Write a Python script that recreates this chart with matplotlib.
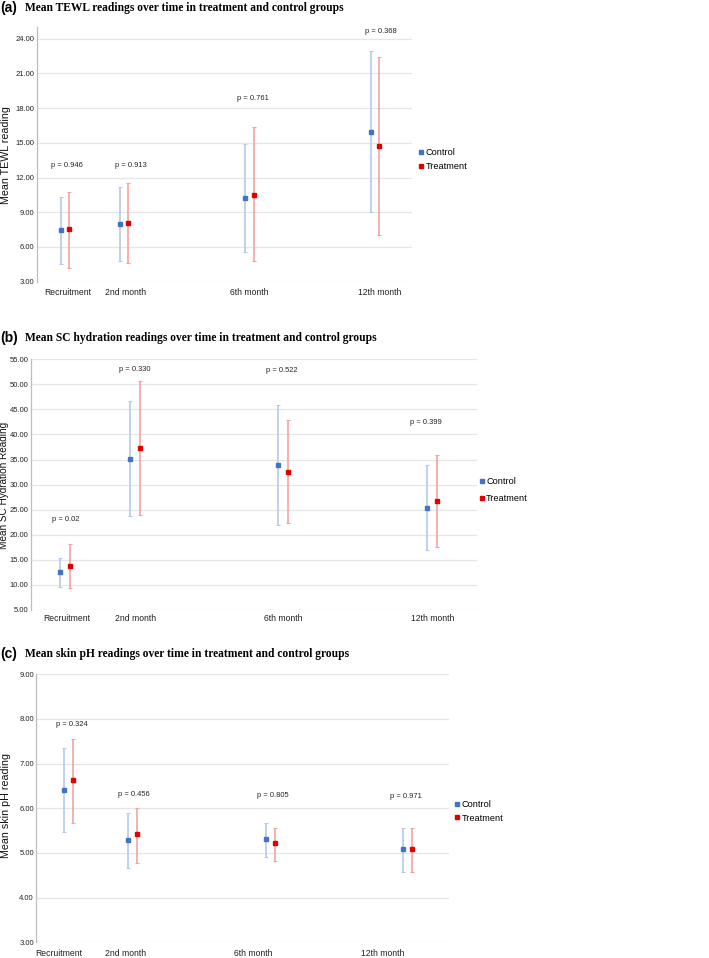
import matplotlib
matplotlib.use("Agg")
import matplotlib.pyplot as plt
from matplotlib import font_manager
from matplotlib.lines import Line2D

# narrow sans if we have it, otherwise plain Liberation Sans at smaller sizes
installed = {f.name for f in font_manager.fontManager.ttflist}
if "Liberation Sans Narrow" in installed:
    SANS = ["Liberation Sans Narrow", "DejaVu Sans"]
    k = 1.2
else:
    SANS = ["Liberation Sans", "DejaVu Sans"]
    k = 1.0
plt.rcParams['font.family'] = SANS

# time points
categories = ["Recruitment", "2nd month", "6th month", "12th month"]

# (a) TEWL
tewl_ctrl = [7.50, 8.00, 10.26, 15.94]
tewl_ctrl_lo = [4.53, 4.76, 5.59, 9.00]
tewl_ctrl_hi = [10.34, 11.20, 14.87, 22.96]
tewl_trt = [7.55, 8.10, 10.52, 14.75]
tewl_trt_lo = [4.20, 4.59, 4.76, 7.06]
tewl_trt_hi = [10.75, 11.50, 16.34, 22.44]
tewl_p = ["0.946", "0.913", "0.761", "0.368"]

# (b) SC hydration
sc_ctrl = [12.5, 35.2, 33.9, 25.4]
sc_ctrl_lo = [9.5, 23.7, 22.0, 17.0]
sc_ctrl_hi = [15.3, 46.6, 45.8, 33.9]
sc_trt = [13.8, 37.3, 32.6, 26.7]
sc_trt_lo = [9.3, 23.9, 22.3, 17.5]
sc_trt_hi = [18.2, 50.6, 42.8, 35.9]
sc_p = ["0.02", "0.330", "0.522", "0.399"]

# (c) skin pH
ph_ctrl = [6.41, 5.28, 5.31, 5.09]
ph_ctrl_lo = [5.46, 4.66, 4.90, 4.58]
ph_ctrl_hi = [7.36, 5.89, 5.67, 5.55]
ph_trt = [6.63, 5.42, 5.22, 5.09]
ph_trt_lo = [5.67, 4.78, 4.82, 4.58]
ph_trt_hi = [7.56, 6.01, 5.57, 5.55]
ph_p = ["0.324", "0.456", "0.805", "0.971"]

BLUE = "#4472c4"
BLUE_BAR = "#b4cbea"
RED = "#e00000"
RED_BAR = "#f3a3a3"

fig = plt.figure(figsize=(7.09, 9.58), dpi=100)
H = 958.0

panels = [
    dict(tag="(a)", title="Mean TEWL readings over time in treatment and control groups",
         ylabel="Mean TEWL reading", rect=[0.0518, 0.706, 0.530, 0.2657],
         ylim=(3, 25), yticks=[3, 6, 9, 12, 15, 18, 21, 24],
         xpos=[0, 1, 3.13, 5.25], xlim=(-0.48, 5.89), off=0.071,
         tickpos=[0.05, 1.03, 3.13, 5.34], xpad=4.5,
         ppos=[(0.04, 13.0), (1.11, 13.05), (3.18, 18.85), (5.35, 24.6)],
         ctrl=(tewl_ctrl, tewl_ctrl_lo, tewl_ctrl_hi), trt=(tewl_trt, tewl_trt_lo, tewl_trt_hi),
         p=tewl_p, title_y=8, leg=(1.018, 0.48), ylab_xy=(6, 155), ylab_fs=7.7, lspace=0.6),
    dict(tag="(b)", title="Mean SC hydration readings over time in treatment and control groups",
         ylabel="Mean SC Hydration Reading", rect=[0.0433, 0.3633, 0.629, 0.2617],
         ylim=(5, 55), yticks=list(range(5, 60, 5)),
         xpos=[0, 1, 3.13, 5.27], xlim=(-0.49, 5.91), off=0.072,
         tickpos=[0.03, 1.01, 3.14, 5.28], xpad=3,
         ppos=[(0.01, 23.0), (1.01, 53.0), (3.12, 52.7), (5.18, 42.4)],
         ctrl=(sc_ctrl, sc_ctrl_lo, sc_ctrl_hi), trt=(sc_trt, sc_trt_lo, sc_trt_hi),
         p=sc_p, title_y=338, leg=(1.007, 0.478), ylab_xy=(4, 485), ylab_fs=7.2, lspace=0.85),
    dict(tag="(c)", title="Mean skin pH readings over time in treatment and control groups",
         ylabel="Mean skin pH reading", rect=[0.0508, 0.0164, 0.583, 0.2797],
         ylim=(3, 9), yticks=[3, 4, 5, 6, 7, 8, 9],
         xpos=[0, 1, 3.14, 5.28], xlim=(-0.51, 5.93), off=0.07,
         tickpos=[-0.15, 0.885, 2.88, 4.89], xpad=4.5,
         ppos=[(0.04, 7.88), (1.02, 6.31), (3.18, 6.29), (5.25, 6.27)],
         ctrl=(ph_ctrl, ph_ctrl_lo, ph_ctrl_hi), trt=(ph_trt, ph_trt_lo, ph_trt_hi),
         p=ph_p, title_y=654, leg=(1.015, 0.488), ylab_xy=(6, 805), ylab_fs=7.7, lspace=0.45),
]

for pn in panels:
    ax = fig.add_axes(pn["rect"])
    for (vals, lo, hi), sgn, mc, bc in [(pn["ctrl"], -1, BLUE, BLUE_BAR), (pn["trt"], 1, RED, RED_BAR)]:
        xs = [x + sgn * pn["off"] for x in pn["xpos"]]
        err = [[v - l for v, l in zip(vals, lo)], [h - v for v, h in zip(vals, hi)]]
        ax.errorbar(xs, vals, yerr=err, fmt="none", ecolor=bc, elinewidth=1.2,
                    capsize=1.4, capthick=0.8, zorder=2)
        ax.plot(xs, vals, "s", color=mc, markersize=2.2, zorder=3, linestyle="none")
    for (px, py), pv in zip(pn["ppos"], pn["p"]):
        ax.text(px, py, "p = " + pv, ha="center", va="center", fontsize=5.4 * k, color="#222222")
    ax.set_xlim(*pn["xlim"])
    ax.set_ylim(*pn["ylim"])
    ax.set_yticks(pn["yticks"])
    ax.set_yticklabels(["%.2f" % t for t in pn["yticks"]], fontsize=5.5 * k)
    ax.set_xticks(pn["tickpos"])
    ax.set_xticklabels(categories, fontsize=6.2 * k)
    ax.tick_params(axis="y", length=0, pad=1.5, colors="#222222")
    ax.tick_params(axis="x", length=0, pad=pn["xpad"], colors="#222222")
    ax.grid(axis="y", color="#e6e6e6", linewidth=0.9)
    ax.set_axisbelow(True)
    for s in ["top", "right", "bottom"]:
        ax.spines[s].set_visible(False)
    ax.spines["left"].set_color("#bdbdbd")
    ax.spines["left"].set_linewidth(0.9)
    lx, ly = pn["ylab_xy"]
    fig.text(lx / 709.0, 1 - ly / H, pn["ylabel"], rotation=90, fontsize=pn["ylab_fs"],
             family=["Liberation Sans", "DejaVu Sans"], ha="center", va="center", color="#111111")
    handles = [Line2D([], [], marker="s", color=BLUE, linestyle="none", markersize=2.2),
               Line2D([], [], marker="s", color=RED, linestyle="none", markersize=2.2)]
    ax.legend(handles, ["Control", "Treatment"], loc="center left", bbox_to_anchor=pn["leg"],
              frameon=False, fontsize=6.6 * k, handlelength=0.4, handletextpad=0.3,
              labelspacing=pn["lspace"], borderaxespad=0, borderpad=0)
    fig.text(0.0, 1 - pn["title_y"] / H, pn["tag"], fontsize=10, fontweight="bold",
             family=["Liberation Sans", "DejaVu Sans"], va="center", ha="left")
    fig.text(0.035, 1 - pn["title_y"] / H, pn["title"], fontsize=8.3, fontweight="bold",
             family=["Liberation Serif", "DejaVu Serif"], va="center", ha="left")

fig.savefig("out.png", dpi=100)
